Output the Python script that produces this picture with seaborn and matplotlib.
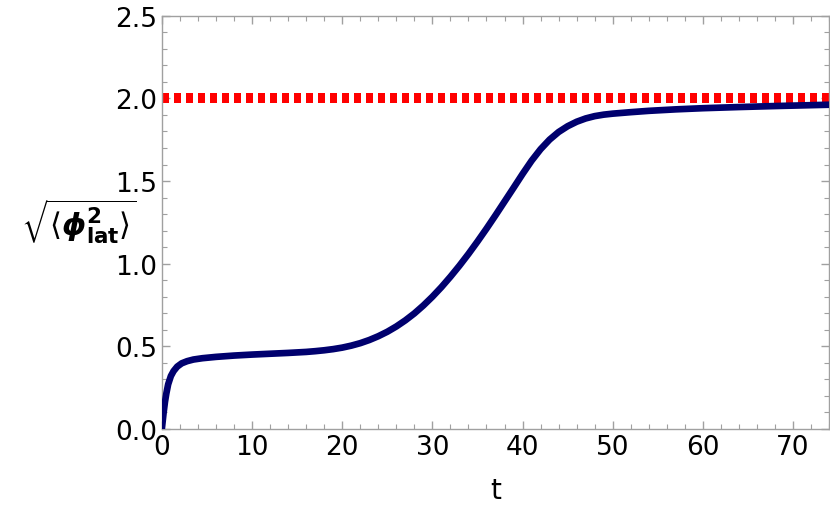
import matplotlib
matplotlib.use("Agg")
import matplotlib.pyplot as plt
import seaborn as sns
import pandas as pd
from matplotlib.ticker import MultipleLocator, FormatStrFormatter

t_vals = [0, 0.1, 0.2, 0.35, 0.5, 0.7, 1.0, 1.3, 1.7, 2.2, 2.8, 3.5, 4.5, 6, 8, 10, 12, 14, 16,
          17, 18, 19, 20, 21, 22, 23, 24, 25, 26, 27, 28, 29, 30, 31, 32, 33, 34, 35, 36, 37, 38,
          39, 40, 41, 42, 43, 44, 45, 46, 47, 48, 49, 50, 52, 54, 57, 60, 64, 68, 74]
phi_vals = [0.0, 0.05, 0.10, 0.165, 0.215, 0.27, 0.32, 0.35, 0.377, 0.397, 0.41, 0.42, 0.428,
            0.436, 0.444, 0.45, 0.455, 0.46, 0.466, 0.4705, 0.476, 0.483, 0.492, 0.504, 0.519,
            0.538, 0.561, 0.588, 0.620, 0.657, 0.699, 0.747, 0.800, 0.858, 0.921, 0.988, 1.059,
            1.134, 1.212, 1.293, 1.376, 1.459, 1.543, 1.623, 1.693, 1.751, 1.797, 1.832, 1.859,
            1.879, 1.893, 1.902, 1.908, 1.917, 1.925, 1.934, 1.941, 1.948, 1.954, 1.962]
target_t = [0, 74]
target_vals = [2.0, 2.0]
x_label = "t"
y_label = r"$\sqrt{\langle\boldsymbol{\phi}^{\mathbf{2}}_{\mathbf{lat}}\rangle}$"

sns.set_style("ticks")
plt.rcParams['font.family'] = ['DejaVu Sans']
plt.rcParams['mathtext.fontset'] = 'dejavusans'

df = pd.DataFrame({"t": t_vals, "phi": phi_vals})
df2 = pd.DataFrame({"t": target_t, "phi": target_vals})

fig = plt.figure(figsize=(8.3, 5.1), dpi=100)
ax = fig.add_axes([0.195, 0.157, 0.804, 0.81])

sns.lineplot(data=df2, x="t", y="phi", ax=ax, color="#ff0000", linewidth=7.2,
             linestyle=(0, (0.7, 0.5)), solid_capstyle="butt", dash_capstyle="butt", zorder=2)
sns.lineplot(data=df, x="t", y="phi", ax=ax, color="#00006e", linewidth=4.8, zorder=3)

ax.set_xlim(0, 74)
ax.set_ylim(0, 2.5)
ax.xaxis.set_major_locator(MultipleLocator(10))
ax.xaxis.set_minor_locator(MultipleLocator(2))
ax.yaxis.set_major_locator(MultipleLocator(0.5))
ax.yaxis.set_minor_locator(MultipleLocator(0.1))
ax.yaxis.set_major_formatter(FormatStrFormatter('%.1f'))

ax.tick_params(which='both', direction='in', top=True, right=True, color='#a0a0a0',
               labelsize=19, labelcolor='black')
ax.tick_params(which='major', length=6, width=1)
ax.tick_params(which='minor', length=3.5, width=0.8)
ax.tick_params(axis='x', pad=4)
for s in ax.spines.values():
    s.set_color('#a0a0a0')
    s.set_linewidth(1)
    s.set_visible(True)

ax.set_xlabel(x_label, fontsize=20, color='black')
ax.xaxis.set_label_coords(0.5, -0.115)
ax.set_ylabel(y_label, fontsize=22, rotation=0, ha='center', va='center', color='black')
ax.yaxis.set_label_coords(-0.125, 0.505)

fig.savefig("out.png", dpi=100)
